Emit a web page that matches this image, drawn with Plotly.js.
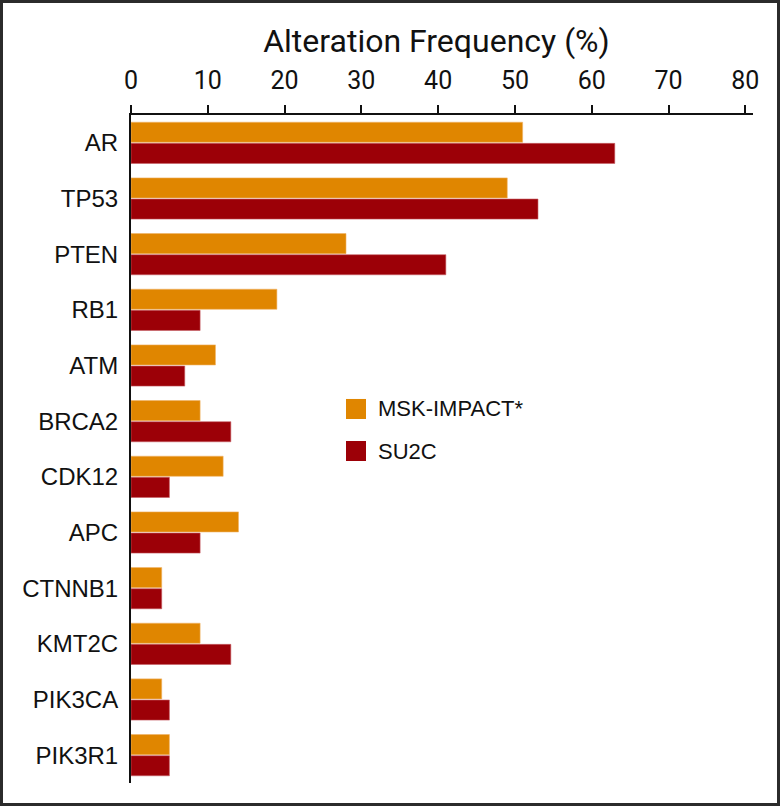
<!DOCTYPE html>
<html>
<head>
<meta charset="utf-8">
<script src="https://cdn.plot.ly/plotly-3.0.1.min.js"></script>
<style>
  html, body { margin: 0; padding: 0; background: #fff; }
  #frame { width: 780px; height: 806px; box-sizing: border-box; border: 3px solid #2b2b2b; background: #fff; }
  #chart { width: 774px; height: 800px; }
</style>
</head>
<body>
<div id="frame"><div id="chart"></div></div>
<script>
const genes = ["AR", "TP53", "PTEN", "RB1", "ATM", "BRCA2", "CDK12", "APC", "CTNNB1", "KMT2C", "PIK3CA", "PIK3R1"];
const seriesNames = ["MSK-IMPACT*", "SU2C"];
const mskImpact = [51, 49, 28, 19, 11, 9, 12, 14, 4, 9, 4, 5];
const su2c = [63, 53, 41, 9, 7, 13, 5, 9, 4, 13, 5, 5];
const xTicks = [0, 10, 20, 30, 40, 50, 60, 70, 80];

const colors = ["#E08600", "#9C0007"];
const edge = ["#F0B466", "#C76067"];

const traces = [mskImpact, su2c].map((vals, i) => ({
  type: "bar",
  orientation: "h",
  name: seriesNames[i],
  y: genes,
  x: vals,
  marker: { color: colors[i], line: { color: edge[i], width: 0.6 } },
  showlegend: false,
  hoverinfo: "x+y+name"
}));

// manual legend (square swatches + labels)
const shapes = [];
const annotations = [];
const legX0 = 0.3457, legX1 = 0.3778, legTextX = 0.3939;
const legY = [0.5599, 0.4970];
const half = 0.0150;
seriesNames.forEach((n, i) => {
  shapes.push({
    type: "rect", xref: "paper", yref: "paper",
    x0: legX0, x1: legX1, y0: legY[i] - half, y1: legY[i] + half,
    fillcolor: colors[i], line: { width: 0 }
  });
  annotations.push({
    xref: "paper", yref: "paper", x: legTextX, y: legY[i],
    xanchor: "left", yanchor: "middle", showarrow: false,
    text: n, font: { family: "Liberation Sans, Arial, sans-serif", size: 22, color: "#111" }
  });
});

const layout = {
  width: 774,
  height: 800,
  margin: { l: 128, r: 24, t: 112, b: 20, pad: 0 },
  paper_bgcolor: "#ffffff",
  plot_bgcolor: "#ffffff",
  barmode: "group",
  bargap: 0.24,
  bargroupgap: 0.05,
  title: {
    text: "Alteration Frequency (%)",
    xref: "container", x: 0.560, xanchor: "center",
    yref: "container", y: 0.953, yanchor: "middle",
    font: { family: "Roboto, Liberation Sans, sans-serif", size: 32, color: "#111" }
  },
  xaxis: {
    side: "top",
    range: [0, 81],
    tickvals: xTicks,
    ticktext: xTicks.map(String),
    ticks: "outside",
    ticklen: 8,
    tickwidth: 2,
    tickcolor: "#111",
    ticklabelstandoff: 6,
    showline: true,
    linewidth: 2,
    linecolor: "#111",
    showgrid: false,
    zeroline: false,
    tickfont: { family: "Roboto, Liberation Sans, sans-serif", size: 25, color: "#111" },
    fixedrange: true
  },
  yaxis: {
    type: "category",
    range: [11.5, -0.5],
    showline: true,
    linewidth: 2,
    linecolor: "#111",
    ticks: "",
    ticklabelstandoff: 6,
    showgrid: false,
    zeroline: false,
    tickfont: { family: "Liberation Sans, Arial, sans-serif", size: 24, color: "#111" },
    fixedrange: true
  },
  shapes: shapes,
  annotations: annotations,
  showlegend: false
};

Plotly.newPlot("chart", traces, layout, { displayModeBar: false, staticPlot: false });
</script>
</body>
</html>
